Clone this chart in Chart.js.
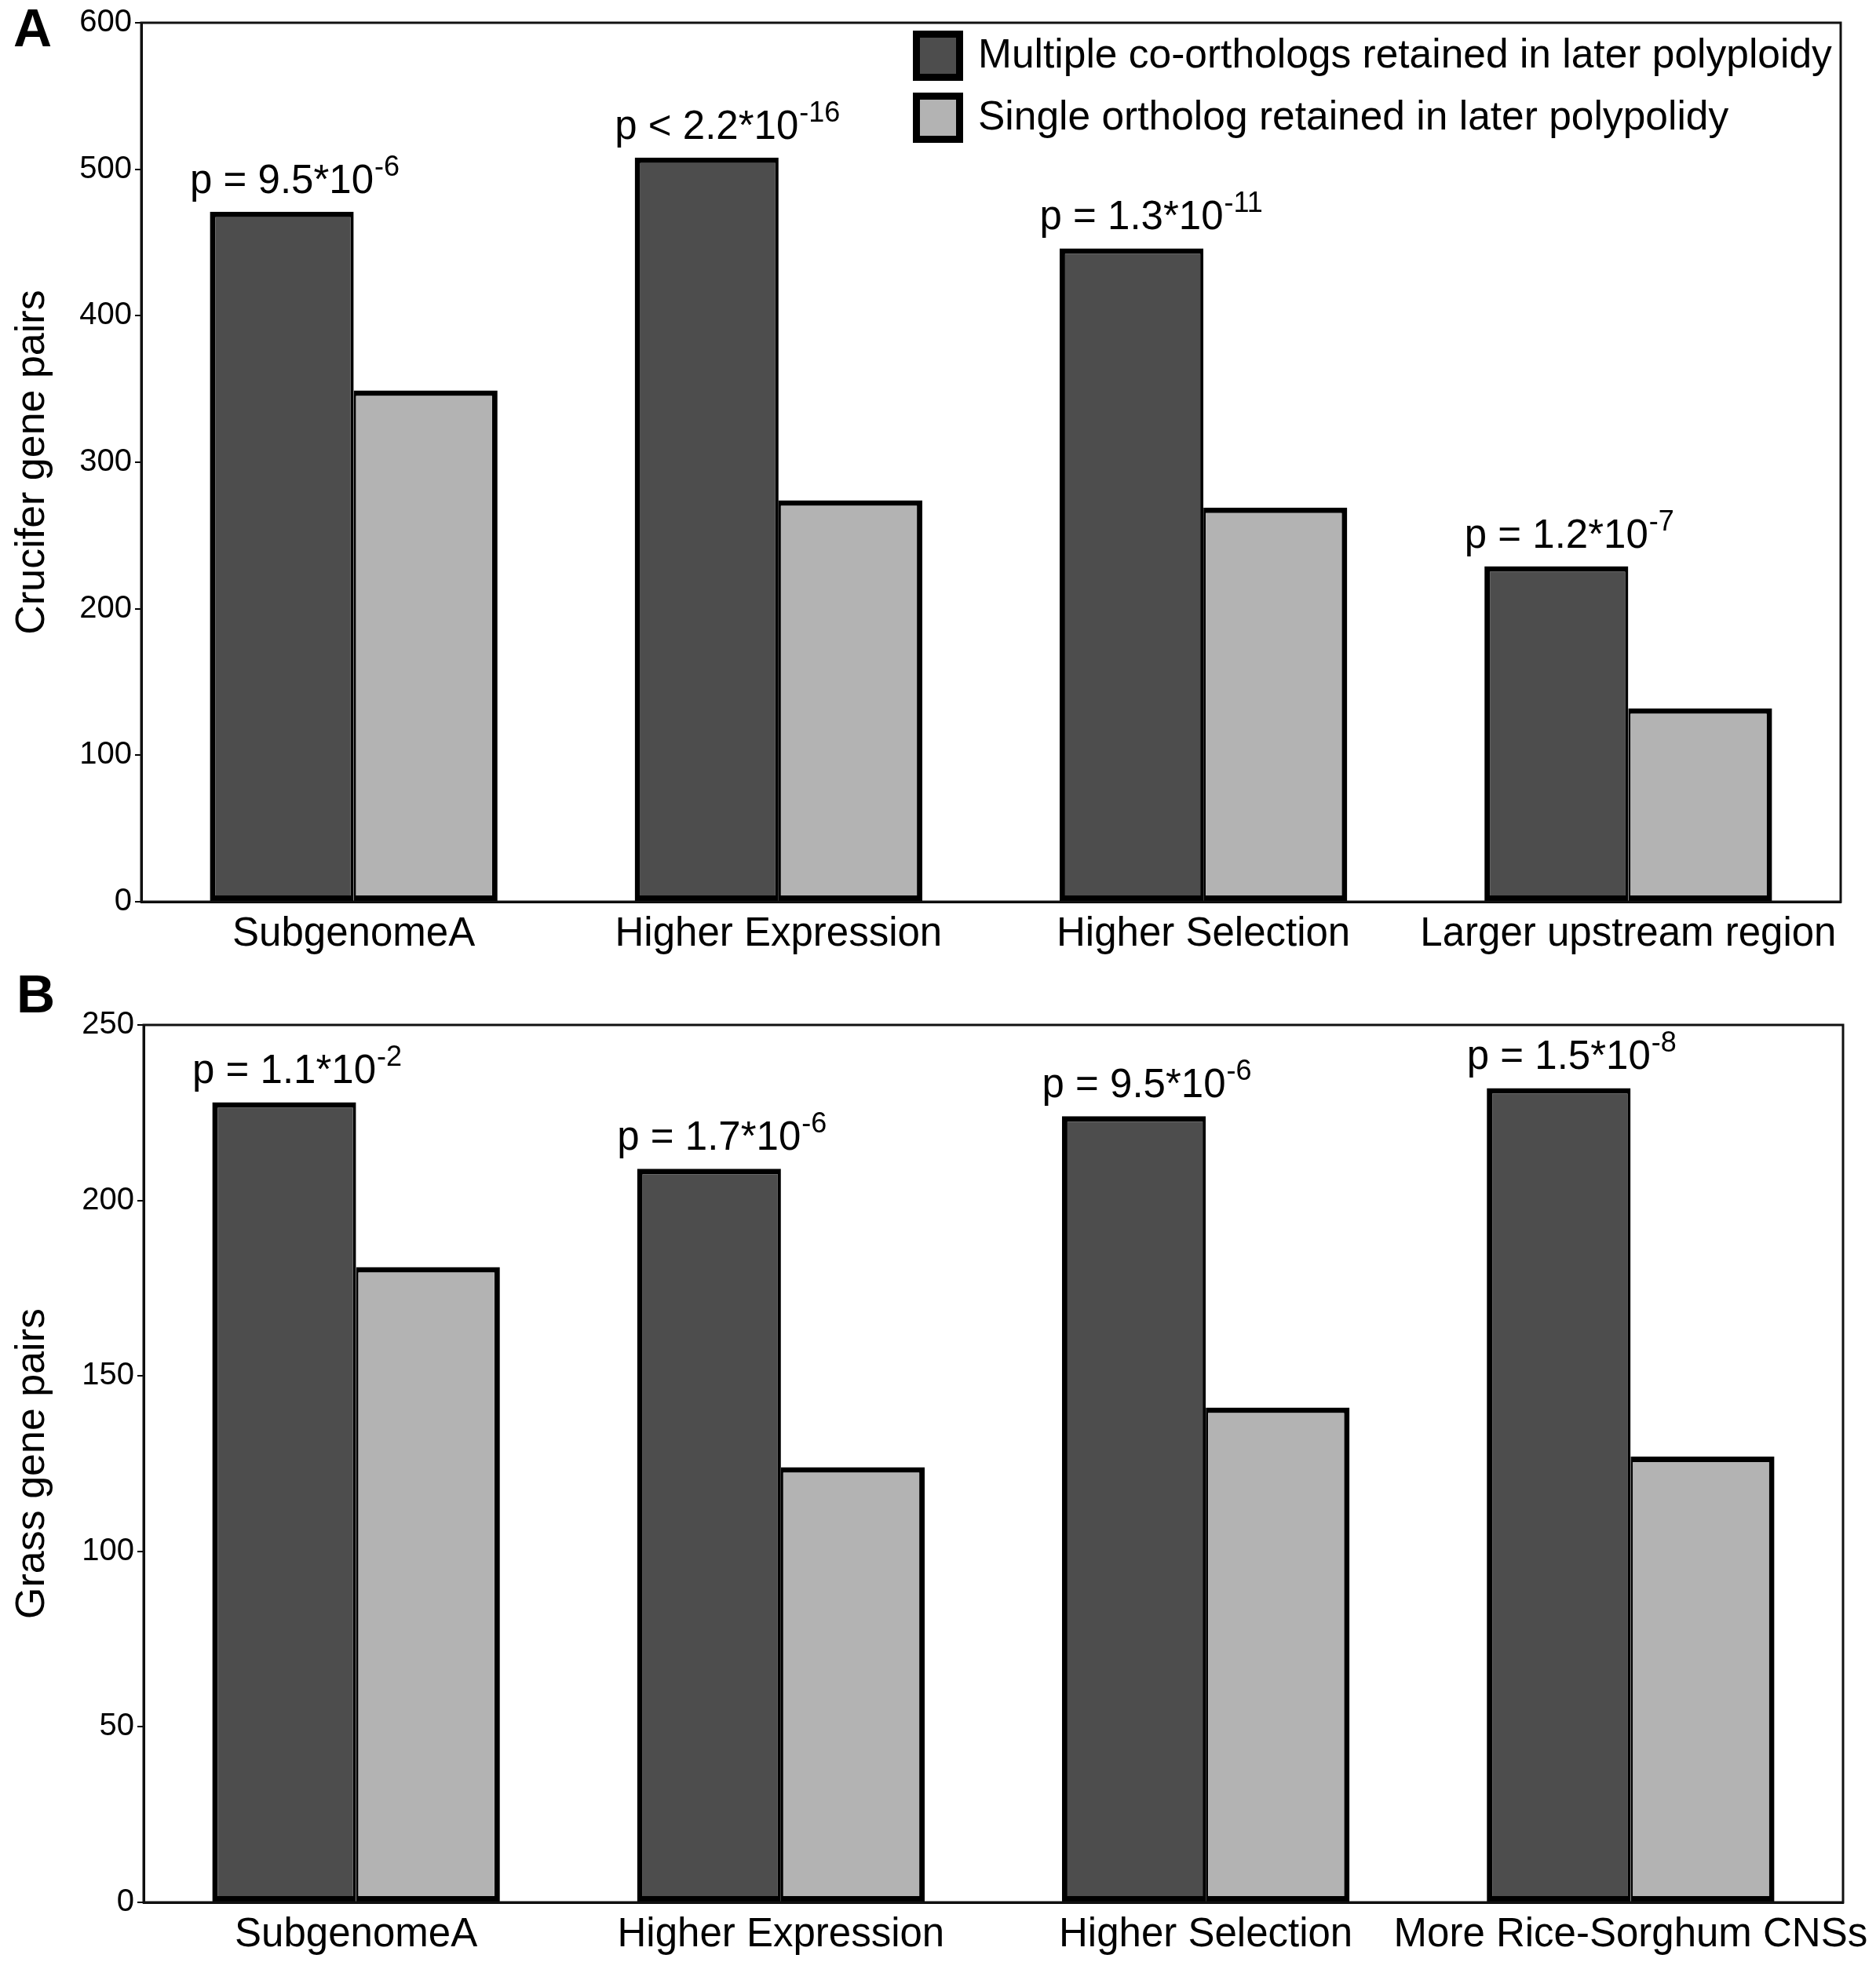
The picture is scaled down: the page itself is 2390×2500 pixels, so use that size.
<!DOCTYPE html>
<html><head><meta charset="utf-8">
<script src="https://cdn.jsdelivr.net/npm/chart.js@4.4.1/dist/chart.umd.min.js"></script>
<style>
html,body{margin:0;padding:0;background:#fff;}
#wrap{position:relative;width:2390px;height:2500px;background:#fff;}
canvas{position:absolute;left:0;}
.lbl{position:absolute;font-family:"Liberation Sans",Arial,sans-serif;font-weight:bold;font-size:68px;line-height:1;color:#000;}
</style></head><body>
<div id="wrap">
<canvas id="cA" width="2390" height="1250" style="top:0"></canvas>
<canvas id="cB" width="2390" height="1250" style="top:1250px"></canvas>
<div class="lbl" style="left:17px;top:1px">A</div>
<div class="lbl" style="left:21px;top:1232px">B</div>
</div>
<script>
// ---- data ----
const seriesNames = ["Multiple co-orthologs retained in later polyploidy", "Single ortholog retained in later polypolidy"];
const categoriesA = ["SubgenomeA", "Higher Expression", "Higher Selection", "Larger upstream region"];
const multipleA = [471, 508, 446, 229];
const singleA = [349, 274, 269, 132];
const pBaseA = ["p = 9.5*10", "p < 2.2*10", "p = 1.3*10", "p = 1.2*10"];
const pExpA = ["-6", "-16", "-11", "-7"];
const categoriesB = ["SubgenomeA", "Higher Expression", "Higher Selection", "More Rice-Sorghum CNSs"];
const multipleB = [228, 209, 224, 232];
const singleB = [181, 124, 141, 127];
const pBaseB = ["p = 1.1*10", "p = 1.7*10", "p = 9.5*10", "p = 1.5*10"];
const pExpB = ["-2", "-6", "-6", "-8"];
const yTitleA = "Crucifer gene pairs";
const yTitleB = "Grass gene pairs";

const FONT = '"Liberation Sans", Arial, sans-serif';
const DARK = '#4d4d4d', LIGHT = '#b3b3b3';

const framePlugin = {
  id: 'frame',
  afterDatasetsDraw(chart) {
    const a = chart.chartArea, ctx = chart.ctx;
    ctx.save();
    ctx.strokeStyle = '#111';
    ctx.lineWidth = 3;
    ctx.strokeRect(a.left, a.top, a.right - a.left, a.bottom - a.top);
    ctx.restore();
  }
};

const pvalPlugin = {
  id: 'pvals',
  afterDatasetsDraw(chart, args, opts) {
    const ctx = chart.ctx;
    const meta = chart.getDatasetMeta(0);
    ctx.save();
    ctx.fillStyle = '#000';
    meta.data.forEach((el, i) => {
      const base = opts.base[i], exp = opts.exp[i];
      ctx.font = '51px ' + FONT;
      const w = ctx.measureText(base).width;
      const by = el.y - 24;
      ctx.textAlign = 'center';
      ctx.textBaseline = 'alphabetic';
      ctx.fillText(base, el.x, by);
      ctx.font = '36px ' + FONT;
      ctx.textAlign = 'left';
      ctx.fillText(exp, el.x + w / 2 + 1, by - 22);
    });
    ctx.restore();
  }
};

const legendPlugin = {
  id: 'boxLegend',
  afterDraw(chart, args, opts) {
    if (!opts.show) return;
    const ctx = chart.ctx;
    ctx.save();
    chart.data.datasets.forEach((ds, i) => {
      const bx = 1163, by = 39 + i * 79, s = 64;
      ctx.fillStyle = '#000';
      ctx.fillRect(bx, by, s, s);
      ctx.fillStyle = ds.backgroundColor;
      ctx.fillRect(bx + 9, by + 9, s - 18, s - 18);
      ctx.fillStyle = '#000';
      ctx.font = '51.5px ' + FONT;
      ctx.textAlign = 'left';
      ctx.textBaseline = 'middle';
      ctx.fillText(ds.label, 1246, by + s / 2 + 1);
    });
    ctx.restore();
  }
};

function makeChart(id, cats, m, s, ymax, step, title, pb, pe, pad, xh, showLegend) {
  return new Chart(document.getElementById(id), {
    type: 'bar',
    data: {
      labels: cats,
      datasets: [
        { label: seriesNames[0], data: m, backgroundColor: DARK, borderColor: '#000',
          borderWidth: {top: 7, left: 7, right: 4, bottom: 7}, borderSkipped: false },
        { label: seriesNames[1], data: s, backgroundColor: LIGHT, borderColor: '#000',
          borderWidth: {top: 7, left: 3, right: 7, bottom: 7}, borderSkipped: false }
      ]
    },
    options: {
      responsive: false,
      animation: false,
      devicePixelRatio: 1,
      layout: { padding: pad },
      categoryPercentage: 0.677,
      barPercentage: 1.0,
      plugins: {
        legend: { display: false },
        tooltip: { enabled: false },
        pvals: { base: pb, exp: pe },
        boxLegend: { show: showLegend }
      },
      scales: {
        x: {
          grid: { display: false },
          border: { display: true, color: '#000', width: 3 },
          ticks: { color: '#000', font: { family: FONT, size: 51 }, padding: 3, maxRotation: 0, autoSkip: false },
          afterFit(sc) { sc.height = xh; }
        },
        y: {
          min: 0, max: ymax,
          grid: { display: true, drawOnChartArea: false, tickLength: 8, color: '#000', lineWidth: 2 },
          border: { display: true, color: '#000', width: 3 },
          ticks: { stepSize: step, color: '#000', font: { family: FONT, size: 40 }, padding: 4 },
          title: { display: true, text: title, color: '#000', font: { family: FONT, size: 52 }, padding: { top: 10, bottom: 0 } },
          afterFit(sc) { sc.width = pad.leftW; }
        }
      }
    },
    plugins: [framePlugin, pvalPlugin, legendPlugin]
  });
}

makeChart('cA', categoriesA, multipleA, singleA, 600, 100, yTitleA, pBaseA, pExpA,
  { top: 29, right: 45, left: 0, bottom: 0, leftW: 180 }, 101, true);
makeChart('cB', categoriesB, multipleB, singleB, 250, 50, yTitleB, pBaseB, pExpB,
  { top: 56, right: 42, left: 0, bottom: 0, leftW: 183 }, 76, false);
</script>
</body></html>
